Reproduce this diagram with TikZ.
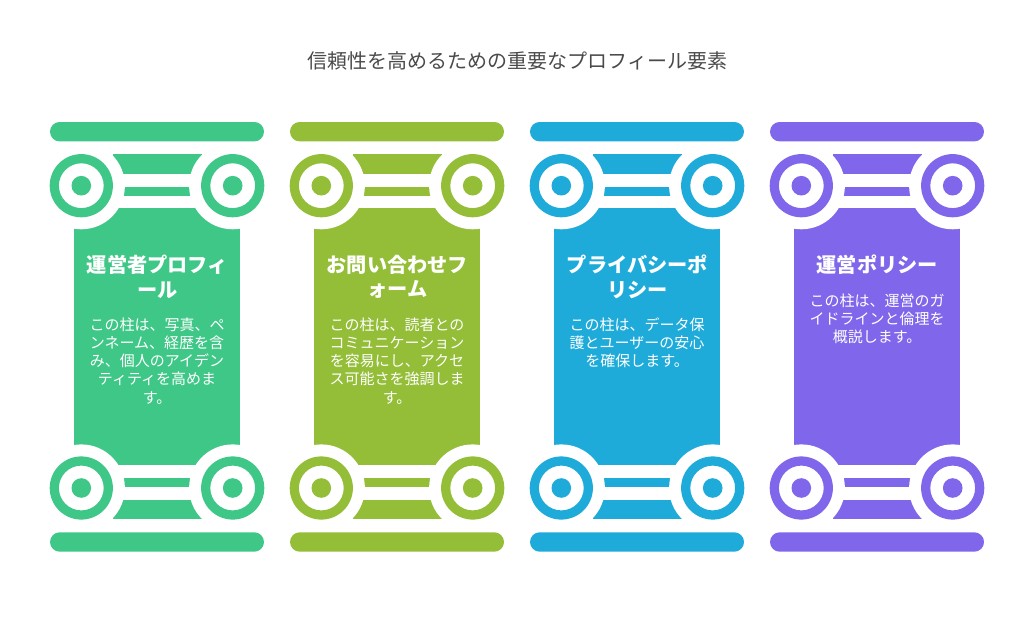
\documentclass[tikz,border=0pt]{standalone}
\usepackage{fontspec}
\setmainfont{Noto Sans CJK JP}
\definecolor{cgreen}{HTML}{3EC786}
\definecolor{colive}{HTML}{94BD38}
\definecolor{cblue}{HTML}{1EABDA}
\definecolor{cpurple}{HTML}{7F66EA}
\definecolor{ctitle}{HTML}{4A4A4A}
\tikzset{
  titletext/.style={text=ctitle,font=\fontsize{20}{24}\selectfont,anchor=center,inner sep=0pt},
  headtext/.style={text=white,font=\fontsize{20.2}{24.5}\bfseries\selectfont,align=center,anchor=north,inner sep=0pt},
  bodytext/.style={text=white,font=\fontsize{15}{18.2}\selectfont,align=center,anchor=north,inner sep=0pt},
}
\newcommand{\halfpillar}[1]{%
  % body part, trapezoid and thin bar, then white halos, then scrolls
  \fill[#1] (74,208.3) rectangle (240,336.85);
  \fill[#1] (112.7,154.3) rectangle (201.7,173.7);
  \fill[#1] (115,186.7) rectangle (199,195.7);
  \fill[white] (81.3,185.7) circle[radius=43.6] (232.7,185.7) circle[radius=43.6];
  \fill[#1,even odd rule] (81.3,185.7) circle[radius=31.6] circle[radius=22.4] circle[radius=9.8];
  \fill[#1,even odd rule] (232.7,185.7) circle[radius=31.6] circle[radius=22.4] circle[radius=9.8];
  \fill[#1,rounded corners=9.7] (50,122) rectangle (264,141.4);
}
\newcommand{\pillar}[1]{%
  \halfpillar{#1}
  \begin{scope}[yshift=-673.7pt,yscale=-1]
    \halfpillar{#1}
  \end{scope}
}
\begin{document}
\begin{tikzpicture}[x=1pt,y=-1pt]
  \useasboundingbox (0,0) rectangle (1034,626);
  \node[titletext] (title) at (517.3,60.5) {信頼性を高めるための重要なプロフィール要素};
  \begin{scope}
    \pillar{cgreen}
    \node[headtext] (h1) at (157.3,255) {運営者プロフィ\\ール};
    \node[bodytext] (b1) at (157,317.5) {この柱は、写真、ペ\\ンネーム、経歴を含\\み、個人のアイデン\\ティティを高めま\\す。};
  \end{scope}
  \begin{scope}[xshift=240pt]
    \pillar{colive}
    \node[headtext] (h2) at (157.3,255) {お問い合わせフ\\ォーム};
    \node[bodytext] (b2) at (157,317.5) {この柱は、読者との\\コミュニケーション\\を容易にし、アクセ\\ス可能さを強調しま\\す。};
  \end{scope}
  \begin{scope}[xshift=480pt]
    \pillar{cblue}
    \node[headtext] (h3) at (157.3,255) {プライバシーポ\\リシー};
    \node[bodytext] (b3) at (157,317.5) {この柱は、データ保\\護とユーザーの安心\\を確保します。};
  \end{scope}
  \begin{scope}[xshift=720pt]
    \pillar{cpurple}
    \node[headtext] (h4) at (157.3,255) {運営ポリシー};
    \node[bodytext] (b4) at (157,293.5) {この柱は、運営のガ\\イドラインと倫理を\\概説します。};
  \end{scope}
\end{tikzpicture}
\end{document}
